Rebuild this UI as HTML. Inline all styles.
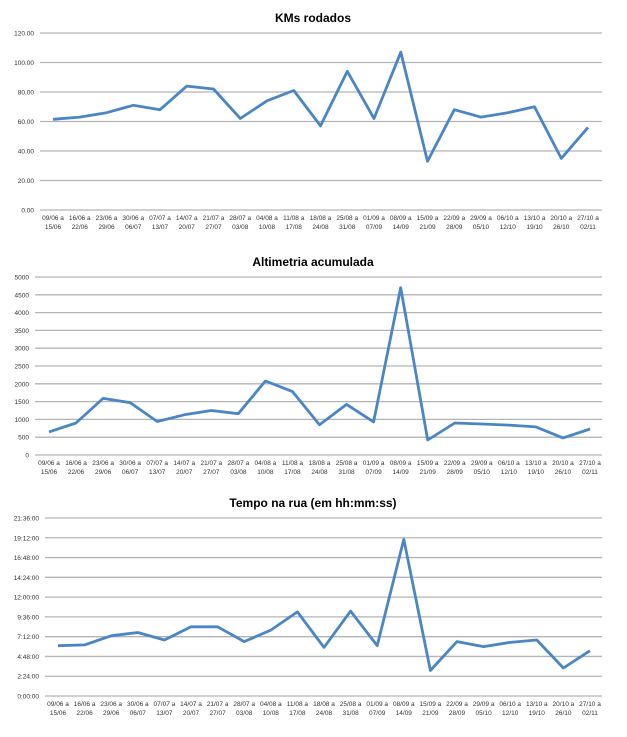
<!DOCTYPE html>
<html><head><meta charset="utf-8"><style>
html,body{margin:0;padding:0;background:#fff;}
svg{display:block;font-family:"Liberation Sans",sans-serif;}
</style></head><body>
<svg id="s" width="627" height="737" viewBox="0 0 627 737"></svg>
<script>
const labs=["09/06 a|15/06","16/06 a|22/06","23/06 a|29/06","30/06 a|06/07","07/07 a|13/07","14/07 a|20/07","21/07 a|27/07","28/07 a|03/08","04/08 a|10/08","11/08 a|17/08","18/08 a|24/08","25/08 a|31/08","01/09 a|07/09","08/09 a|14/09","15/09 a|21/09","22/09 a|28/09","29/09 a|05/10","06/10 a|12/10","13/10 a|19/10","20/10 a|26/10","27/10 a|02/11"];
const charts=[
{title:"KMs rodados",ty:22,top:33,bot:210,gl:40,gr:602,x0:53,x1:588,max:120,ticks:["0.00","20.00","40.00","60.00","80.00","100.00","120.00"],tx:34,
 v:[61.5,63,66,71,68,84,82,62,74,81,57,94,62,107,33,68,63,66,70,35,56]},
{title:"Altimetria acumulada",ty:266,top:277,bot:455,gl:35,gr:602,x0:49,x1:590,max:5000,ticks:["0","500","1000","1500","2000","2500","3000","3500","4000","4500","5000"],tx:29,
 v:[650,900,1590,1470,940,1130,1250,1160,2080,1780,850,1420,930,4700,420,900,870,840,790,480,730]},
{title:"Tempo na rua (em hh:mm:ss)",ty:507,top:518,bot:696,gl:45,gr:602,x0:58,x1:590,max:21.6,ticks:["0:00:00","2:24:00","4:48:00","7:12:00","9:36:00","12:00:00","14:24:00","16:48:00","19:12:00","21:36:00"],tx:39,
 v:[6.1,6.2,7.3,7.7,6.8,8.4,8.4,6.6,8.0,10.2,5.9,10.3,6.1,19.0,3.1,6.6,6.0,6.5,6.8,3.4,5.5]}];
let h="";
for(const c of charts){
 h+=`<text x="313" y="${c.ty}" font-size="12" font-weight="bold" text-anchor="middle">${c.title}</text>`;
 const n=c.ticks.length-1;
 c.ticks.forEach((t,i)=>{const y=c.bot-(c.bot-c.top)*i/n;
  h+=`<line x1="${c.gl}" x2="${c.gr}" y1="${y}" y2="${y}" stroke="#b4b4b4" stroke-width="1.3"/>`;
  h+=`<text x="${c.tx}" y="${y+2.5}" font-size="6.5" fill="#333" text-anchor="end">${t}</text>`;});
 const dx=(c.x1-c.x0)/20;let p=[];
 c.v.forEach((v,i)=>{const x=c.x0+i*dx;p.push(x.toFixed(1)+","+(c.bot-(c.bot-c.top)*v/c.max).toFixed(1));
  const [a,b]=labs[i].split("|");
  h+=`<text x="${x}" y="${c.bot+10}" font-size="6.5" fill="#333" text-anchor="middle">${a}</text><text x="${x}" y="${c.bot+19}" font-size="6.5" fill="#333" text-anchor="middle">${b}</text>`;});
 h+=`<polyline points="${p.join(" ")}" fill="none" stroke="#4a86c5" stroke-width="2.8" stroke-linejoin="round"/>`;
}
document.getElementById("s").innerHTML=h;
</script>
</body></html>
